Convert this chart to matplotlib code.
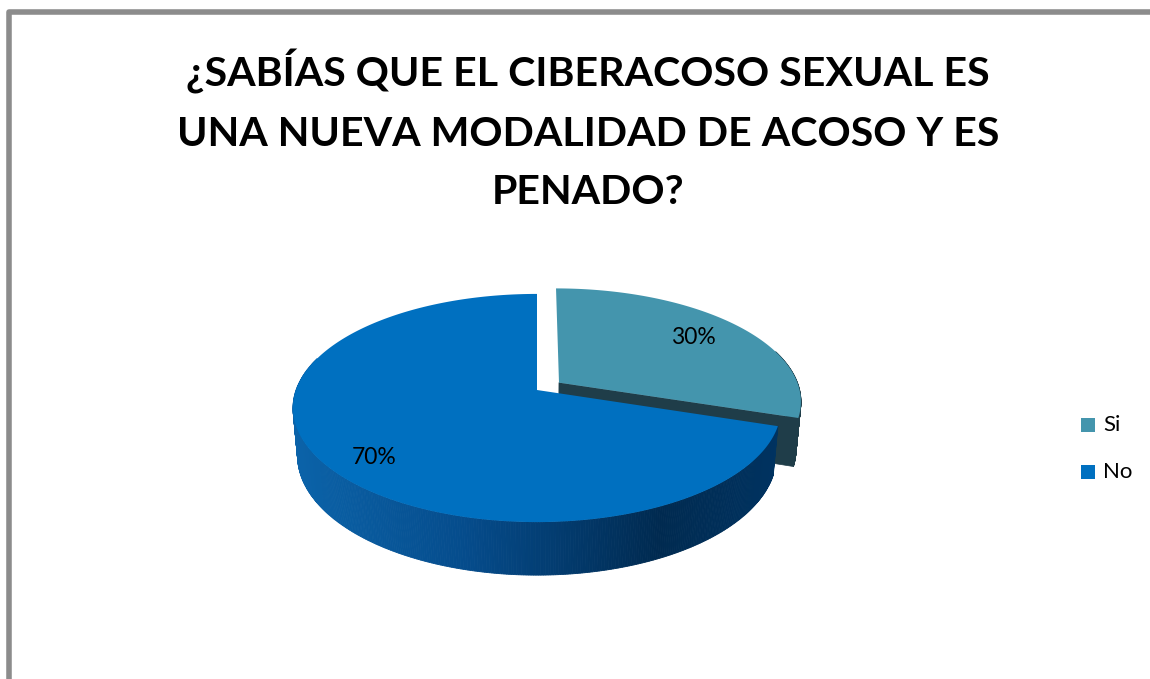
import numpy as np
import matplotlib
matplotlib.use("Agg")
import matplotlib.pyplot as plt
from matplotlib.patches import Polygon, Rectangle
from matplotlib.colors import LinearSegmentedColormap

# ---- data ----
title = "¿SABÍAS QUE EL CIBERACOSO SEXUAL ES\nUNA NUEVA MODALIDAD DE ACOSO Y ES\nPENADO?"
categories = ["Si", "No"]
values = [30, 70]
labels = ["30%", "70%"]
top_colors = ["#4495ad", "#0070c0"]
side_colors = ["#1f3d49", None]

W, H = 1150, 679
fig = plt.figure(figsize=(W / 100, H / 100), dpi=100)
ax = fig.add_axes([0, 0, 1, 1])
ax.set_xlim(0, W)
ax.set_ylim(H, 0)
ax.axis("off")

FONT = ["Lato", "DejaVu Sans"]

# frame
ax.plot([9, 9, W + 10], [H + 10, 12, 12], color="#8c8c8c", lw=4, solid_joinstyle="round",
        solid_capstyle="butt")

ax.text(588, 130, title, ha="center", va="center", fontsize=29.6, fontweight="bold",
        family=FONT, linespacing=1.70, color="black")

# ---- 3D pie with perspective (pixel units on screen, y down) ----
sx0, sy0 = 537, 390          # projection of pie centre
phi = np.radians(27.5)       # elevation
Dcam = 5.62                  # camera distance (in radii)
focal = 1354
thick = 0.225                # pie thickness (in radii)
cphi, sphi = np.cos(phi), np.sin(phi)


def proj(X, Y, Z):
    X, Y, Z = np.broadcast_arrays(np.asarray(X, float), np.asarray(Y, float), np.asarray(Z, float))
    yc = Y * cphi + Z * sphi
    zc = Dcam + Z * cphi - Y * sphi
    return np.column_stack([sx0 + focal * X / zc, sy0 - focal * yc / zc])


def rim(theta, ex, ez, Y=0.0):
    t = np.radians(theta)
    return proj(ex + np.cos(t), Y, ez + np.sin(t))


total = sum(values)
spans = [v / total * 360 for v in values]
starts = [90 - sum(spans[:i]) for i in range(len(values))]
explode = [0.114, 0.0]

cmap = LinearSegmentedColormap.from_list(
    "g", [(0, "#0b63a9"), (0.35, "#054c8c"), (0.75, "#002a50"), (1.0, "#003361")])
xmin_g, xmax_g = 296, 780

slices = []
for i, (st, sp) in enumerate(zip(starts, spans)):
    en = st - sp
    mid = (st + en) / 2
    ex = explode[i] * np.cos(np.radians(mid))
    ez = explode[i] * np.sin(np.radians(mid))
    slices.append((st, en, mid, ex, ez))

z = 2
for i in [0, 1]:
    st, en, mid, ex, ez = slices[i]
    ctop = proj(ex, 0, ez)
    cbot = proj(ex, -thick, ez)
    # radial face at end angle (front facing for the exploded slice)
    if i == 0:
        face = np.vstack([ctop, rim(en, ex, ez), rim(en, ex, ez, -thick), cbot])
        ax.add_patch(Polygon(face, closed=True, fc=side_colors[0], ec=side_colors[0],
                             lw=0.5, zorder=z))
    # outer wall as strips, far to near
    th = np.linspace(en, st, 500)
    keep = np.sin(np.radians(th)) < 0.3
    th = th[keep]
    if len(th) > 1:
        segs = list(zip(th[:-1], th[1:]))
        segs.sort(key=lambda s: -np.sin(np.radians((s[0] + s[1]) / 2)))
        for t0, t1 in segs:
            q = np.vstack([rim(t0, ex, ez), rim(t1, ex, ez),
                           rim(t1, ex, ez, -thick), rim(t0, ex, ez, -thick)])
            if side_colors[i] is not None:
                col = side_colors[i]
            else:
                xm = q[:, 0].mean()
                col = cmap(np.clip((xm - xmin_g) / (xmax_g - xmin_g), 0, 1))
            ax.add_patch(Polygon(q, closed=True, fc=col, ec=col, lw=0.6, zorder=z))
    # top face
    tt = np.linspace(st, en, 500)
    topface = np.vstack([ctop, rim(tt, ex, ez)])
    ax.add_patch(Polygon(topface, closed=True, fc=top_colors[i], ec="none", zorder=z + 1))
    z += 2

# labels
label_r = [0.75, 0.83]
label_dang = [0, 6]
for i, (st, en, mid, ex, ez) in enumerate(slices):
    t = np.radians(mid + label_dang[i])
    lr = label_r[i]
    p = proj(ex + lr * np.cos(t), 0, ez + lr * np.sin(t))[0]
    ax.text(p[0], p[1], labels[i], ha="center", va="center", fontsize=16.5, family=FONT,
            color="black", zorder=10)

# legend
for i, cat in enumerate(categories):
    y = 425 + i * 47
    ax.add_patch(Rectangle((1081, y - 7), 14, 14, fc=top_colors[i], ec="none"))
    ax.text(1103, y, cat, ha="left", va="center", fontsize=16, family=FONT, color="black")

fig.savefig("out.png", dpi=100)
